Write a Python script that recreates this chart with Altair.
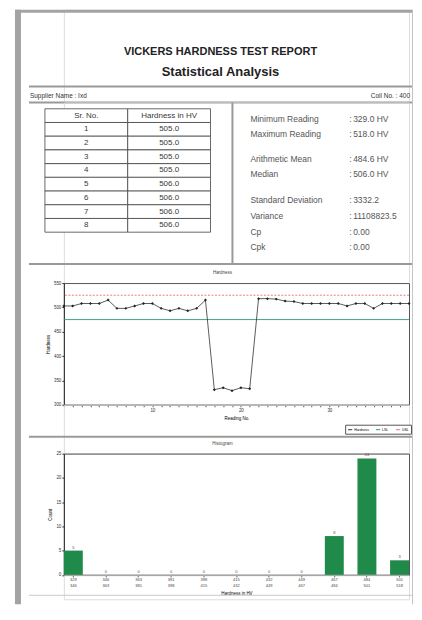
import altair as alt
import pandas as pd

FONT = "Liberation Sans"

# ---------------- data ----------------
report_title = "VICKERS HARDNESS TEST REPORT"
report_subtitle = "Statistical Analysis"
supplier_label = "Supplier Name :  Ixd"
coil_label = "Coil No. : 400"

table_header = ["Sr. No.", "Hardness in HV"]
table_sr_no = ["1", "2", "3", "4", "5", "6", "7", "8"]
table_hardness = ["505.0", "505.0", "505.0", "505.0", "506.0", "506.0", "506.0", "506.0"]

stat_labels = ["Minimum Reading", "Maximum Reading", "Arithmetic Mean", "Median",
               "Standard Deviation", "Variance", "Cp", "Cpk"]
stat_values = ["329.0 HV", "518.0 HV", "484.6 HV", "506.0 HV",
               "3332.2", "11108823.5", "0.00", "0.00"]

line_title = "Hardness"
line_x_title = "Reading No."
line_y_title = "Hardness"
reading_no = list(range(40))
readings = [503, 503, 508, 508, 508, 515, 498, 498, 503, 508, 508, 498, 493, 498, 493, 498, 515,
            331, 335, 329, 335, 333,
            518, 518, 517, 513, 512, 508, 508, 508, 508, 508, 503, 508, 508, 498, 508, 508, 508, 508]
usl_value = 525
lsl_value = 475
line_y_ticks = [300, 350, 400, 450, 500, 550]
line_x_labels = [10, 20, 30]

bar_title = "Histogram"
bar_x_title = "Hardness in HV"
bar_y_title = "Count"
bin_labels = ["329-346", "346-363", "363-381", "381-398", "398-415", "415-432",
              "432-449", "449-467", "467-484", "484-501", "501-518"]
bin_counts = [5, 0, 0, 0, 0, 0, 0, 0, 8, 24, 3]
bar_y_ticks = [0, 5, 10, 15, 20, 25]

# ---------------- layout constants ----------------
PW = 346          # plot width; every panel starts at the plot's left edge
L, R = -35, 349   # left / right ends of the section rules (relative to panel origin)
GRAY = "#a3a3a3"
LINE = "#9a9a9a"
one = pd.DataFrame({"a": [0]})


def txt(s, x, y, size, align="left", bold=False, color="#333", baseline="middle"):
    return alt.Chart(one).mark_text(
        text=s, fontSize=size, align=align, baseline=baseline, color=color,
        fontWeight="bold" if bold else "normal", font=FONT,
    ).encode(x=alt.value(x), y=alt.value(y))


def hrule(y, x1, x2, color=LINE, w=2):
    return alt.Chart(one).mark_rule(color=color, strokeWidth=w).encode(
        x=alt.value(x1), x2=alt.value(x2), y=alt.value(y))


def vrule(x, y1, y2, color=LINE, w=2):
    return alt.Chart(one).mark_rule(color=color, strokeWidth=w).encode(
        x=alt.value(x), y=alt.value(y1), y2=alt.value(y2))


def box(x1, x2, y1, y2, color):
    return alt.Chart(one).mark_rect(color=color).encode(
        x=alt.value(x1), x2=alt.value(x2), y=alt.value(y1), y2=alt.value(y2))


# ---------------- header (page frame + titles) ----------------
header = alt.layer(
    box(-49, 350, 0, 3, GRAY),          # top frame band
    box(-49, -43, 0, 596, GRAY),        # left frame band
    box(349, 350, 0, 596, "#c4c4c4"),   # right frame line
    txt(report_title, 157, 45, 11, align="center", bold=True, color="#222", baseline="alphabetic"),
    txt(report_subtitle, 157, 66.3, 13, align="center", bold=True, color="#222", baseline="alphabetic"),
    hrule(77, L, R),
    txt(supplier_label, -34, 86, 6.5),
    txt(coil_label, 347, 86, 6.5, align="right"),
    hrule(93, L, R),
).properties(width=PW, height=93)

# ---------------- table + stats ----------------
rows = []
for c, h in enumerate(table_header):
    rows.append({"row": 0, "col": c, "text": h})
for i, (s, v) in enumerate(zip(table_sr_no, table_hardness)):
    rows.append({"row": i + 1, "col": 0, "text": s})
    rows.append({"row": i + 1, "col": 1, "text": v})
tdf = pd.DataFrame(rows)

tx = alt.X("col:O", scale=alt.Scale(range=[-19, 147], paddingInner=0, paddingOuter=0), axis=None)
ty = alt.Y("row:O", scale=alt.Scale(range=[6.3, 130], paddingInner=0, paddingOuter=0), axis=None)
tbase = alt.Chart(tdf)
t_cells = tbase.mark_rect(fill="white", stroke="#444", strokeWidth=0.8).encode(x=tx, y=ty)
t_text = tbase.mark_text(fontSize=8, color="#3a3a3a", font=FONT).encode(x=tx, y=ty, text="text:N")

stat_y = [16.5, 32, 57, 72, 98, 114, 130, 145]
stat_layers = []
for lab, val, yy in zip(stat_labels, stat_values, stat_y):
    stat_layers.append(txt(lab, 187, yy, 8.5, color="#555"))
    stat_layers.append(txt(":", 286, yy, 8.5, color="#555"))
    stat_layers.append(txt(val, 290, yy, 8.5, color="#555"))

upper = alt.layer(
    t_cells, t_text, vrule(169, 0, 161), *stat_layers
).properties(width=PW, height=161)

# ---------------- line chart ----------------
line_df = pd.DataFrame({"reading": reading_no, "hv": readings, "series": "Hardness"})
usl_df = pd.DataFrame({"hv": [usl_value], "series": ["USL"]})
lsl_df = pd.DataFrame({"hv": [lsl_value], "series": ["LSL"]})

xs = alt.Scale(domain=[0, 39], nice=False)
ys = alt.Scale(domain=[300, 550], nice=False)
cscale = alt.Scale(domain=["Hardness", "LSL", "USL"], range=["#333333", "#22a36a", "#e86f6f"])
# the legend is placed relative to the whole report (page y 424 -> 416 from the top of the report)
leg = alt.Legend(orient="none", legendX=282, legendY=416, direction="horizontal", title=None,
                 strokeColor="#555", fillColor="white", padding=2, labelFontSize=3.5,
                 labelFont=FONT, symbolType="stroke", symbolSize=18, symbolStrokeWidth=1,
                 columnPadding=4, labelOffset=1)

label_test = " || ".join(f"datum.value == {v}" for v in line_x_labels)
xaxis = alt.Axis(values=reading_no, labelExpr=f"({label_test}) ? datum.label : ''",
                 labelFontSize=4.5, tickSize=2, grid=False, domainColor="#333", tickColor="#555",
                 labelColor="#333", title=line_x_title, titleFontSize=4.5, titleFontWeight="normal",
                 titlePadding=3, labelPadding=1, labelOverlap=False, labelFlush=False)
yaxis = alt.Axis(values=line_y_ticks, labelFontSize=4.5, tickSize=2, grid=False, domainColor="#333",
                 tickColor="#333", labelColor="#333", title=line_y_title, titleFontSize=4.5,
                 titleFontWeight="normal", titlePadding=3, labelPadding=1, labelOverlap=False,
                 labelFlush=False, labelBound=False)

X_LINE = alt.X("reading:Q", scale=xs, axis=xaxis)
Y_LINE = alt.Y("hv:Q", scale=ys, axis=yaxis)
C_LINE = alt.Color("series:N", scale=cscale, legend=leg)

lbase = alt.Chart(line_df)
l_line = lbase.mark_line(strokeWidth=0.8).encode(x=X_LINE, y=Y_LINE, color=C_LINE)
l_pts = lbase.mark_point(filled=True, size=9, shape="diamond", color="#222", opacity=1).encode(
    x=X_LINE, y=Y_LINE)
l_usl = alt.Chart(usl_df).mark_rule(strokeWidth=0.9, strokeDash=[2, 1.5]).encode(
    y=Y_LINE, color=C_LINE)
l_lsl = alt.Chart(lsl_df).mark_rule(strokeWidth=0.9).encode(y=Y_LINE, color=C_LINE)

line_chart = alt.layer(l_usl, l_lsl, l_line, l_pts).properties(
    width=PW, height=122, view=alt.ViewBackground(stroke="#555", strokeWidth=1))

line_top = alt.layer(
    hrule(1, L, R),
    txt(line_title, 159, 9.7, 4.5, align="center", color="#444"),
).properties(width=PW, height=20)

line_bottom = alt.layer(
    hrule(32, L, R),
    txt(bar_title, 159, 39.5, 4.5, align="center", color="#444"),
).properties(width=PW, height=48.5)

# ---------------- bar chart ----------------
bar_df = pd.DataFrame({"bin": bin_labels, "count": bin_counts})
bx = alt.X("bin:N", sort=bin_labels, scale=alt.Scale(paddingInner=0.42, paddingOuter=0.0),
           axis=alt.Axis(labelExpr="split(datum.label, '-')", labelFontSize=4, labelAngle=0,
                         tickSize=2, domainColor="#333", tickColor="#333", labelColor="#444",
                         title=bar_x_title, titleFontSize=4.5, titleFontWeight="normal",
                         titlePadding=3, labelPadding=1, labelOverlap=False))
by = alt.Y("count:Q", scale=alt.Scale(domain=[0, 25], nice=False),
           axis=alt.Axis(values=bar_y_ticks, labelFontSize=4.5, tickSize=2, grid=False,
                         domainColor="#333", tickColor="#333", labelColor="#333",
                         title=bar_y_title, titleFontSize=4.5, titleFontWeight="normal",
                         titlePadding=3, labelPadding=1, labelOverlap=False, labelFlush=False,
                         labelBound=False))
bbase = alt.Chart(bar_df)
b_bars = bbase.mark_bar(color="#1f8a4a").encode(x=bx, y=by)
b_text = bbase.mark_text(fontSize=4, dy=-3, color="#555", font=FONT).encode(
    x=bx, y=by, text="count:Q")
bar_chart = alt.layer(b_bars, b_text).properties(
    width=PW, height=121.5, view=alt.ViewBackground(stroke="#555", strokeWidth=1))

bar_bottom = alt.layer(hrule(20, L, R, color="#c8c8c8", w=1)).properties(width=PW, height=24)

chart = alt.vconcat(
    header, upper, line_top, line_chart, line_bottom, bar_chart, bar_bottom,
    spacing=0, bounds="flush",
).properties(
    padding={"left": 6, "top": 0, "right": 0, "bottom": 0}
).configure_view(stroke=None).configure(font=FONT)

chart.save("out.html", embed_options={"renderer": "svg", "actions": False})
